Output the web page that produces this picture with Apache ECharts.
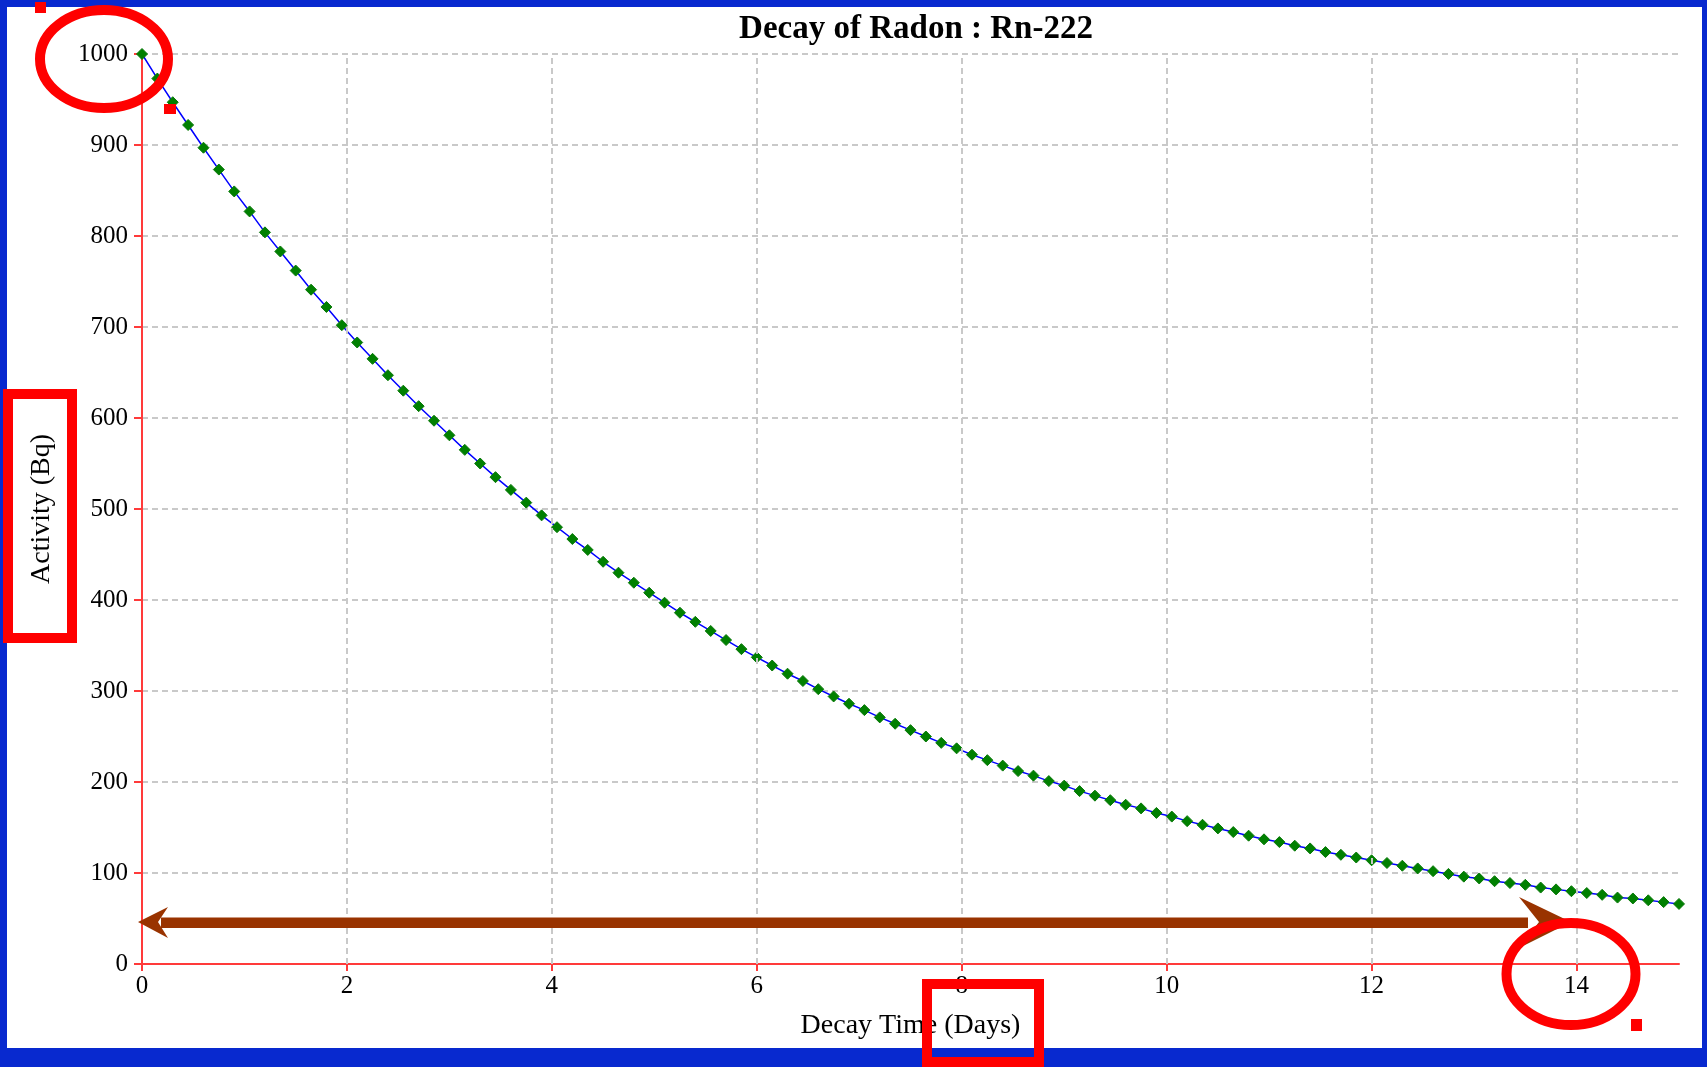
<!DOCTYPE html>
<html>
<head>
<meta charset="utf-8">
<title>Decay of Radon : Rn-222</title>
<script src="https://cdn.jsdelivr.net/npm/echarts@6/dist/echarts.min.js"></script>
<style>
  html, body { margin: 0; padding: 0; background: #ffffff; }
  #chart { width: 1707px; height: 1067px; }
</style>
</head>
<body>
<div id="chart"></div>
<script>
// Decay time in days, one sample every 0.15 day
const decayTimeDays = [
  0, 0.15, 0.3, 0.45, 0.6, 0.75, 0.9, 1.05, 1.2, 1.35,
  1.5, 1.65, 1.8, 1.95, 2.1, 2.25, 2.4, 2.55, 2.7, 2.85,
  3, 3.15, 3.3, 3.45, 3.6, 3.75, 3.9, 4.05, 4.2, 4.35,
  4.5, 4.65, 4.8, 4.95, 5.1, 5.25, 5.4, 5.55, 5.7, 5.85,
  6, 6.15, 6.3, 6.45, 6.6, 6.75, 6.9, 7.05, 7.2, 7.35,
  7.5, 7.65, 7.8, 7.95, 8.1, 8.25, 8.4, 8.55, 8.7, 8.85,
  9, 9.15, 9.3, 9.45, 9.6, 9.75, 9.9, 10.05, 10.2, 10.35,
  10.5, 10.65, 10.8, 10.95, 11.1, 11.25, 11.4, 11.55, 11.7, 11.85,
  12, 12.15, 12.3, 12.45, 12.6, 12.75, 12.9, 13.05, 13.2, 13.35,
  13.5, 13.65, 13.8, 13.95, 14.1, 14.25, 14.4, 14.55, 14.7, 14.85,
  15
];

// Measured activity in Bq at each sample time
const activityBq = [
  1000, 973, 947, 922, 897, 873, 849, 827, 804, 783,
  762, 741, 722, 702, 683, 665, 647, 630, 613, 597,
  581, 565, 550, 535, 521, 507, 493, 480, 467, 455,
  442, 430, 419, 408, 397, 386, 376, 366, 356, 346,
  337, 328, 319, 311, 302, 294, 286, 279, 271, 264,
  257, 250, 243, 237, 230, 224, 218, 212, 207, 201,
  196, 190, 185, 180, 175, 171, 166, 162, 157, 153,
  149, 145, 141, 137, 134, 130, 127, 123, 120, 117,
  114, 111, 108, 105, 102, 99, 96, 94, 91, 89,
  87, 84, 82, 80, 78, 76, 73, 72, 70, 68,
  66
];

const xTicks = [0, 2, 4, 6, 8, 10, 12, 14];
const yTicks = [0, 100, 200, 300, 400, 500, 600, 700, 800, 900, 1000];

const titleText = 'Decay of Radon : Rn-222';
const xAxisTitle = 'Decay Time (Days)';
const yAxisTitle = 'Activity (Bq)';

const points = decayTimeDays.map((t, i) => [t, activityBq[i]]);

const serif = '"Liberation Serif", "Times New Roman", serif';
const axisRed = '#ff3a3a';
const gridGrey = '#c9c9c9';
const frameBlue = '#0829cf';
const markRed = '#ff0000';
const arrowBrown = '#993300';

const gridDash = { color: gridGrey, width: 2, type: [6, 4] };

const chart = echarts.init(document.getElementById('chart'), null, { renderer: 'canvas' });

chart.setOption({
  animation: false,
  backgroundColor: '#ffffff',
  title: {
    text: titleText,
    left: 911,
    top: 8,
    textAlign: 'center',
    textStyle: { fontFamily: serif, fontWeight: 'bold', fontSize: 33, color: '#000000' }
  },
  grid: { left: 142, right: 28, top: 54, bottom: 103, containLabel: false },
  xAxis: {
    type: 'value',
    min: 0,
    max: 15,
    interval: 2,
    name: xAxisTitle,
    nameLocation: 'middle',
    nameGap: 48,
    nameTextStyle: { fontFamily: serif, fontSize: 28, color: '#000000' },
    axisLine: { show: true, onZero: false, lineStyle: { color: axisRed, width: 2 } },
    axisTick: { show: true, length: 7, lineStyle: { color: axisRed, width: 2 } },
    axisLabel: {
      margin: 10,
      fontFamily: serif,
      fontSize: 25,
      color: '#000000',
      showMaxLabel: false,
      formatter: v => (xTicks.indexOf(v) >= 0 ? String(v) : '')
    },
    // vertical grid lines are drawn by the markLine below so none sits on the right edge
    splitLine: { show: false }
  },
  yAxis: {
    type: 'value',
    min: 0,
    max: 1000,
    interval: 100,
    name: yAxisTitle,
    nameLocation: 'middle',
    nameGap: 86,
    nameRotate: 90,
    nameTextStyle: { fontFamily: serif, fontSize: 28, color: '#000000' },
    axisLine: { show: true, onZero: false, lineStyle: { color: axisRed, width: 2 } },
    axisTick: { show: true, length: 8, lineStyle: { color: axisRed, width: 2 } },
    axisLabel: {
      margin: 14,
      fontFamily: serif,
      fontSize: 25,
      color: '#000000',
      formatter: v => (yTicks.indexOf(v) >= 0 ? String(v) : '')
    },
    splitLine: { show: true, lineStyle: gridDash }
  },
  series: [
    {
      // vertical dashed grid at each labelled day
      type: 'line',
      data: [],
      silent: true,
      z: 1,
      markLine: {
        silent: true,
        symbol: 'none',
        label: { show: false },
        lineStyle: gridDash,
        animation: false,
        data: xTicks.filter(v => v > 0).map(v => ({ xAxis: v }))
      }
    },
    {
      type: 'line',
      data: points,
      showSymbol: true,
      symbol: 'diamond',
      symbolSize: 11,
      itemStyle: { color: '#008000', borderColor: '#0a7a0a', borderWidth: 1 },
      lineStyle: { color: '#0000ff', width: 1.5 },
      z: 3
    }
  ],
  graphic: [
    // blue frame around the page
    { type: 'rect', shape: { x: 0, y: 0, width: 1707, height: 7 }, style: { fill: frameBlue }, z: 100 },
    { type: 'rect', shape: { x: 0, y: 0, width: 7, height: 1067 }, style: { fill: frameBlue }, z: 100 },
    { type: 'rect', shape: { x: 1702, y: 0, width: 5, height: 1067 }, style: { fill: frameBlue }, z: 100 },
    { type: 'rect', shape: { x: 0, y: 1048, width: 1707, height: 19 }, style: { fill: frameBlue }, z: 100 },

    // brown double-headed arrow along the time span
    { type: 'rect', shape: { x: 161, y: 917.5, width: 1367, height: 10.5 }, style: { fill: arrowBrown }, z: 110 },
    { type: 'polygon', shape: { points: [[138, 922], [168, 907], [158, 922], [168, 938]] }, style: { fill: arrowBrown }, z: 110 },
    { type: 'polygon', shape: { points: [[1571, 922], [1519, 897], [1539, 922], [1519, 948]] }, style: { fill: arrowBrown }, z: 110 },

    // red callouts
    { type: 'ellipse', shape: { cx: 104, cy: 59, rx: 64, ry: 49 }, style: { fill: 'none', stroke: markRed, lineWidth: 10 }, z: 120 },
    { type: 'ellipse', shape: { cx: 1571, cy: 974, rx: 64.5, ry: 51 }, style: { fill: 'none', stroke: markRed, lineWidth: 10 }, z: 120 },
    { type: 'rect', shape: { x: 8, y: 394, width: 64, height: 244 }, style: { fill: 'none', stroke: markRed, lineWidth: 10 }, z: 120 },
    { type: 'rect', shape: { x: 927, y: 984, width: 112, height: 78 }, style: { fill: 'none', stroke: markRed, lineWidth: 10 }, z: 120 },
    { type: 'rect', shape: { x: 35, y: 2, width: 11, height: 11 }, style: { fill: markRed }, z: 120 },
    { type: 'rect', shape: { x: 164, y: 104, width: 12, height: 10 }, style: { fill: markRed }, z: 120 },
    { type: 'rect', shape: { x: 1631, y: 1019, width: 11, height: 12 }, style: { fill: markRed }, z: 120 }
  ]
});
</script>
</body>
</html>
